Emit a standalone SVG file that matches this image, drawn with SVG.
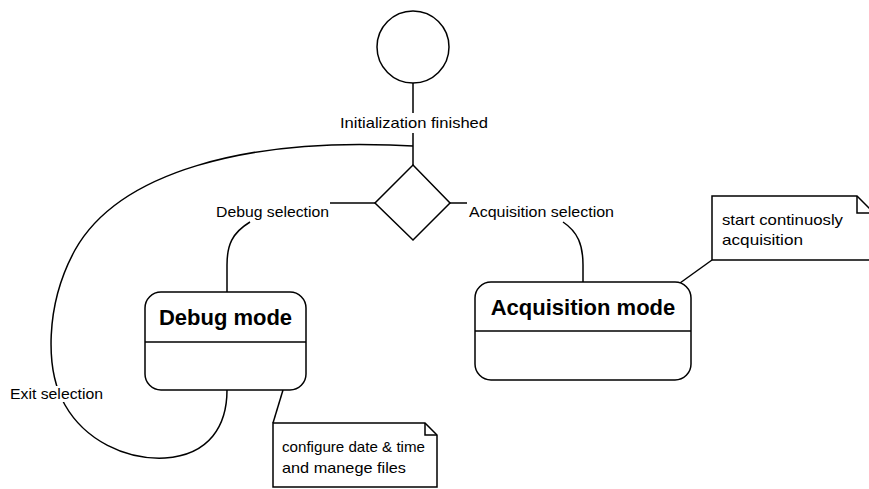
<svg xmlns="http://www.w3.org/2000/svg" width="869" height="489" viewBox="0 0 869 489">
<style>
.s{fill:#fff;stroke:#000;stroke-width:1.5}
.c{fill:none;stroke:#000;stroke-width:1.5}
.t{font-family:"Liberation Sans",Arial,sans-serif;font-size:15px;fill:#000}
.b{font-family:"Liberation Sans",Arial,sans-serif;font-size:22px;font-weight:bold;fill:#000}
</style>
<rect width="869" height="489" fill="#fff"/>
<g id="connectors">
<path class="c" d="M413 83 V113 M413 133 V165"/>
<path class="c" d="M413 146 L390 145 C250 140 120 170 75 250 C45 305 45 370 65 405 C85 440 125 460 165 458 C210 455 227 425 227 390"/>
<path class="c" d="M375 203 H330"/>
<path class="c" d="M250 222 C232 233 227 245 227 265 V292"/>
<path class="c" d="M450 203 H467"/>
<path class="c" d="M563 222 C578 232 583 245 583 265 V282"/>
<path class="c" d="M680 283 L712 260"/>
<path class="c" d="M283 390 L273 423"/>
<rect x="8" y="386" width="98" height="16" fill="#fff"/>
<text class="t" x="10" y="399" textLength="93" lengthAdjust="spacingAndGlyphs">Exit selection</text>
<text class="t" x="340" y="128" textLength="148" lengthAdjust="spacingAndGlyphs">Initialization finished</text>
<text class="t" x="216" y="217" textLength="113" lengthAdjust="spacingAndGlyphs">Debug selection</text>
<text class="t" x="469" y="217" textLength="145" lengthAdjust="spacingAndGlyphs">Acquisition selection</text>
</g>
<g id="start"><circle class="s" cx="413" cy="47" r="36"/></g>
<g id="decision"><path class="s" d="M413 165 L450 203 L413 240 L375 203 Z"/></g>
<g id="debug-mode">
<rect class="s" x="145" y="292" width="161" height="98" rx="16"/>
<path class="c" d="M145 342 H306"/>
<text class="b" x="225.5" y="325" text-anchor="middle">Debug mode</text>
</g>
<g id="acquisition-mode">
<rect class="s" x="475" y="282" width="216" height="98" rx="16"/>
<path class="c" d="M475 331 H691"/>
<text class="b" x="583" y="315" text-anchor="middle">Acquisition mode</text>
</g>
<g id="note-acquisition">
<path class="s" d="M712 196 H857 L874 213 V260 H712 Z"/>
<path class="c" d="M857 196 V213 H874"/>
<text class="t" x="722" y="225" textLength="121" lengthAdjust="spacingAndGlyphs">start continuosly</text>
<text class="t" x="722" y="245" textLength="81" lengthAdjust="spacingAndGlyphs">acquisition</text>
</g>
<g id="note-debug">
<path class="s" d="M273 423 H425 L437 435 V487 H273 Z"/>
<path class="c" d="M425 423 V435 H437"/>
<text class="t" x="282" y="452" textLength="143" lengthAdjust="spacingAndGlyphs">configure date &amp; time</text>
<text class="t" x="282" y="473" textLength="124" lengthAdjust="spacingAndGlyphs">and manege files</text>
</g>
</svg>
